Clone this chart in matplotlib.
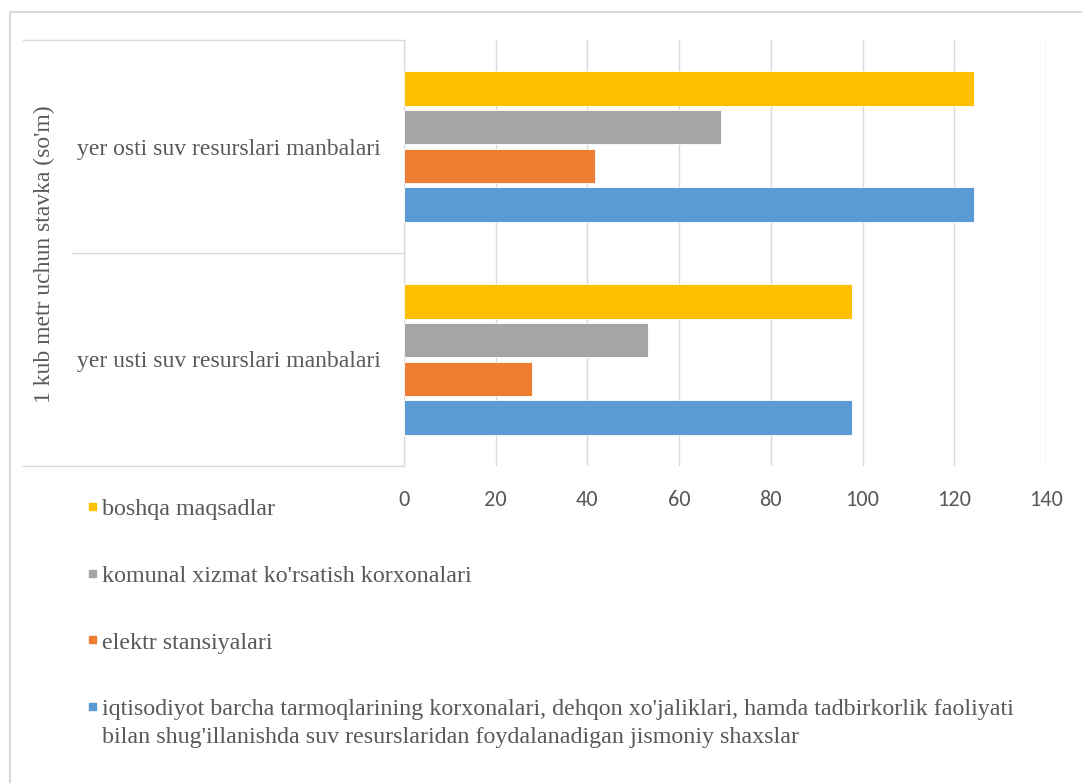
import matplotlib
matplotlib.use("Agg")
import matplotlib.pyplot as plt
from matplotlib.lines import Line2D
from matplotlib.patches import Rectangle

# data
categories = ["yer usti suv resurslari manbalari", "yer osti suv resurslari manbalari"]
series_names = [
    "iqtisodiyot barcha tarmoqlarining korxonalari, dehqon xo'jaliklari, hamda tadbirkorlik faoliyati\nbilan shug'illanishda suv resurslaridan foydalanadigan jismoniy shaxslar",
    "elektr stansiyalari",
    "komunal xizmat ko'rsatish korxonalari",
    "boshqa maqsadlar",
]
iqtisodiyot = [97.8, 124.3]
elektr = [27.9, 41.6]
komunal = [53.3, 69.2]
boshqa = [97.8, 124.3]
x_ticks = [0, 20, 40, 60, 80, 100, 120, 140]
y_title = "1 kub metr uchun stavka (so'm)"

colors = ["#5B9BD5", "#ED7D31", "#A5A5A5", "#FFC000"]
text_col = "#595959"
grid_col = "#D9D9D9"
serif = ["Liberation Serif", "DejaVu Serif"]
sans = ["Carlito", "Lato", "DejaVu Sans"]

W, H = 1082, 783
fig = plt.figure(figsize=(W / 100, H / 100), dpi=100)

def fx(px):
    return px / W

def fy(py):
    return 1 - py / H

ax = fig.add_axes([fx(404), fy(466), fx(1046) - fx(404), fy(40) - fy(466)])

values = [iqtisodiyot, elektr, komunal, boshqa]
offsets = [-0.273, -0.091, 0.091, 0.273]
for vals, off, c in zip(values, offsets, colors):
    ax.barh([i + off for i in range(len(categories))], vals, height=0.162,
            color=c, edgecolor="white", linewidth=0.6, zorder=3)

ax.set_xlim(0, 140)
ax.set_ylim(-0.5, 1.5)
ax.set_xticks(x_ticks)
ax.set_xticklabels([str(t) for t in x_ticks], family=sans, fontsize=16, color=text_col)
ax.set_yticks(range(len(categories)))
ax.set_yticklabels(categories, family=serif, fontsize=17, color=text_col)
ax.tick_params(axis="x", length=0, pad=17)
ax.tick_params(axis="y", length=0, pad=17)
ax.grid(axis="x", color=grid_col, linewidth=1, zorder=0)
for s in ["top", "right", "bottom"]:
    ax.spines[s].set_visible(False)
ax.spines["left"].set_color(grid_col)

# category axis box lines
for (x0, x1, y) in [(23, 404, 40), (72, 404, 253), (23, 404, 466)]:
    fig.add_artist(Line2D([fx(x0), fx(x1)], [fy(y), fy(y)], color=grid_col, lw=1))

# outer chart border
fig.add_artist(Line2D([fx(10), fx(1082)], [fy(12), fy(12)], color=grid_col, lw=1.5))
fig.add_artist(Line2D([fx(10), fx(10)], [fy(12), fy(783)], color=grid_col, lw=1.5))

fig.text(fx(44), fy(254), y_title, rotation=90, ha="center", va="center",
         family=serif, fontsize=17, color=text_col)

# legend
legend_rows = [510, 577, 643, 710]
line_gap = 27
for name, c, py in zip(series_names[::-1], colors[::-1], legend_rows):
    fig.add_artist(Rectangle((fx(89), fy(py - 4) - 3.5 / H), 7 / W, 7 / H,
                             color=c, transform=fig.transFigure))
    for k, line in enumerate(name.split("\n")):
        fig.text(fx(102), fy(py + k * line_gap), line, ha="left", va="center",
                 family=serif, fontsize=17.3, color=text_col)

fig.savefig("out.png", dpi=100)
